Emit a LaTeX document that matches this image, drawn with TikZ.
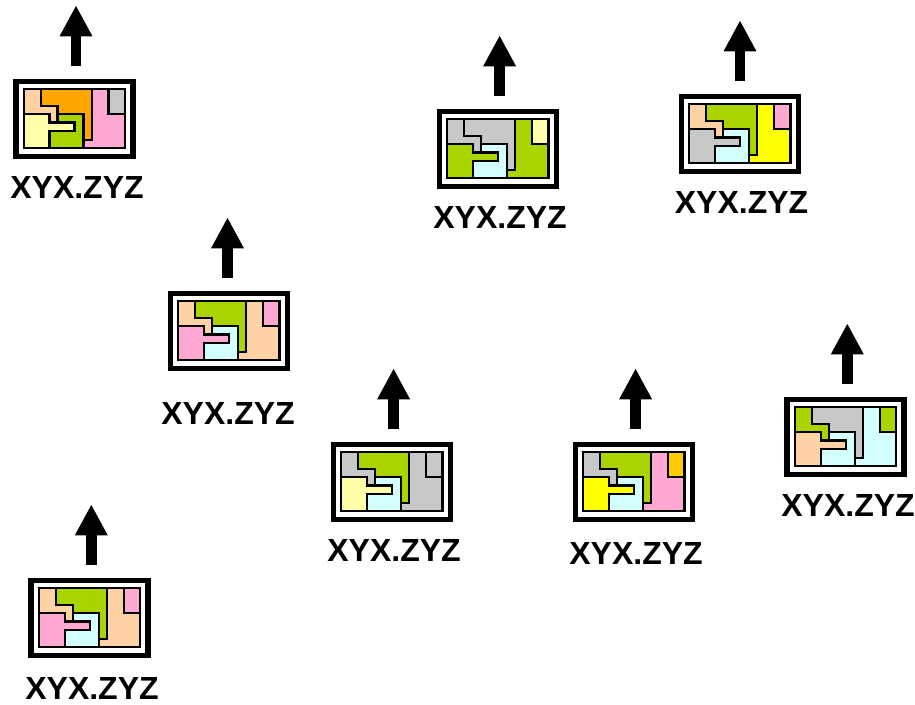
\documentclass[tikz,border=0pt]{standalone}
\usepackage{fontspec}
\setmainfont{Liberation Sans}
\usetikzlibrary{arrows.meta}
\definecolor{cPe}{HTML}{FFD2A6}
\definecolor{cOr}{HTML}{FFA500}
\definecolor{cLy}{HTML}{FFFFAA}
\definecolor{cGn}{HTML}{AAD400}
\definecolor{cGy}{HTML}{C8C8C8}
\definecolor{cPk}{HTML}{FFA8D4}
\definecolor{cCy}{HTML}{D4FFFF}
\definecolor{cYe}{HTML}{FFFF00}
\definecolor{cAm}{HTML}{FFCC00}
\tikzset{
  room/.style={draw=black,line width=2.3pt,miter limit=10},
  framebox/.style={draw=black,fill=white,line width=5.6pt,inner sep=0pt,minimum width=117pt,minimum height=75pt},
  blockarrow/.style={line width=10.7pt,-{Triangle[length=31pt,width=30.5pt]},black},
  caption/.style={font=\fontsize{32}{32}\selectfont\bfseries,anchor=base,inner sep=0pt}
}
\begin{document}
\begin{tikzpicture}[x=1pt,y=-1pt]
\useasboundingbox (0,0) rectangle (915,704);
\foreach \n/\px/\py/\ax/\ca/\cb/\cc/\cd/\ce/\cf/\lx/\ly in {
  a/23.7/89.3/52.3/cPe/cOr/cLy/cGn/cPk/cGy/77/198.5,
  b/447.3/119.3/52.3/cGy/cGy/cGn/cCy/cGn/cLy/500/228.5,
  c/689.3/104.3/50.7/cPe/cGn/cGy/cCy/cYe/cPk/741.5/213.5,
  d/178.3/301.3/49.2/cPe/cGn/cPk/cCy/cPe/cPk/228/424.5,
  e/341.3/452.3/52.3/cGy/cGn/cLy/cCy/cGy/cGy/394/561.5,
  f/583.3/452.3/52.3/cGy/cGn/cYe/cCy/cPk/cAm/636/564.5,
  g/795/407.3/52.3/cGn/cGy/cPe/cCy/cCy/cGn/848/516.5,
  h/39/588.3/52.3/cPe/cGn/cPk/cCy/cPe/cPk/92/699
}{
  \begin{scope}[shift={(\px,\py)}]
    \node[framebox] (frame\n) at (50.5,29.5) {};
    \path[room,fill=\ca] (0,0) -- (17,0) -- (17,16.67) -- (33.67,16.67) -- (33.67,33.3) -- (25.67,33.3) -- (25.67,25) -- (0,25) -- cycle;
    \path[room,fill=\cb] (17,0) -- (68,0) -- (68,50.67) -- (59.67,50.67) -- (59.67,25) -- (33.67,25) -- (33.67,16.67) -- (17,16.67) -- cycle;
    \path[room,fill=\ce] (68,0) -- (101.33,0) -- (101.33,59) -- (59.67,59) -- (59.67,50.67) -- (68,50.67) -- cycle;
    \path[room,fill=\cf] (84.67,0) -- (101.33,0) -- (101.33,25) -- (84.67,25) -- cycle;
    \path[room,fill=\cd] (33.67,33.3) -- (33.67,25) -- (59.67,25) -- (59.67,59) -- (25.67,59) -- (25.67,42) -- (50.67,42) -- (50.67,33.3) -- cycle;
    \path[room,fill=\cc] (0,25) -- (25.67,25) -- (25.67,33.3) -- (50.67,33.3) -- (50.67,42) -- (25.67,42) -- (25.67,59) -- (0,59) -- cycle;
    \coordinate (tail\n) at (\ax,-23.3);
    \coordinate (tip\n) at (\ax,-84);
  \end{scope}
  \draw[blockarrow] (tail\n) -- (tip\n);
  \node[caption] (label\n) at (\lx,\ly) {XYX.ZYZ};
}
\end{tikzpicture}
\end{document}
